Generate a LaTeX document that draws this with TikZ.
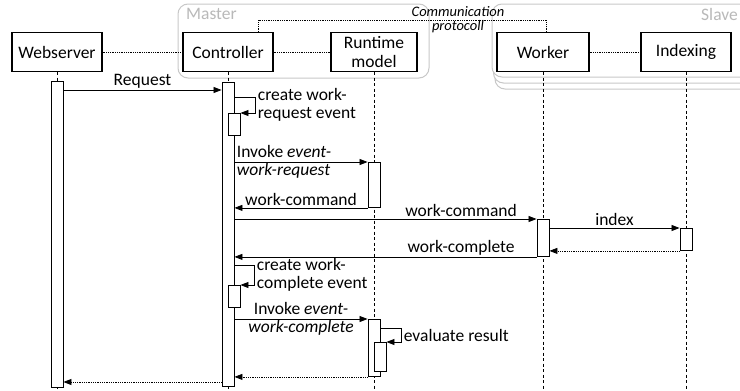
\documentclass[tikz,border=0pt]{standalone}
\usepackage{fontspec}
\setmainfont{Carlito}
\usetikzlibrary{positioning,calc,arrows.meta}

\definecolor{groupgray}{RGB}{200,200,200}
\definecolor{labelgray}{RGB}{185,185,185}

\begin{document}
\begin{tikzpicture}[
				x=1pt, y=-1pt,
				font=\fontsize{17.5}{18.5}\selectfont,
				component/.style={rectangle, draw, line width=1.2pt, minimum width=90pt, minimum height=39pt, align=center, inner sep=1pt, fill=white},
				activation/.style={rectangle, draw, line width=0.9pt, fill=white, minimum width=12pt, inner sep=0pt, anchor=north},
				group/.style={draw=groupgray, line width=1pt, rounded corners=10pt, fill=white},
				grouplabel/.style={text=labelgray, inner sep=0pt},
				lifeline/.style={line width=0.8pt, dash pattern=on 3pt off 2.5pt},
				link/.style={line width=0.8pt, densely dotted},
				msg/.style={-{Triangle[length=8pt, width=6pt]}, line width=0.8pt},
				reply/.style={msg, densely dotted},
				lbl/.style={inner sep=1.5pt}
				]
				\useasboundingbox (0,0) rectangle (740,391);
				\clip (0,0) rectangle (740,391);
				
				% Gruppi
				\draw[group] (178,4) rectangle (429,78);
				\node[grouplabel, anchor=west] (master) at (186,14) {Master};
				\foreach \d in {2,1,0}
					\draw[group] ({492+1.5*\d},{4+6*\d}) rectangle (790,{77+6*\d});
				\node[grouplabel, anchor=east] (slave) at (738,14) {Slave};
				
				% Partecipanti
				\node[component] (web) at (57,52) {Webserver};
				\node[component] (ctrl) at (228,52) {Controller};
				\node[component, minimum width=86pt] (rt) at (374,52) {Runtime\\model};
				\node[component, minimum width=92pt] (worker) at (543,52) {Worker};
				\node[component] (idx) at (686,52) {Indexing};
				
				\draw[link] (web) -- (ctrl);
				\draw[link] (ctrl) -- (rt);
				\draw[link] (worker) -- (idx);
				
				% Protocollo
				\draw[link] ([xshift=30pt]ctrl.north) -- ++(0,-12) -| ([xshift=3pt]worker.north);
				\node[font=\fontsize{14.5}{14}\selectfont\itshape, align=center] (proto) at (458,20) {Communication\\protocoll};
				
				% Linee di vita
				\foreach \p in {web,ctrl,rt,worker,idx}
					\draw[lifeline] (\p.south) -- (\p.south |- 0,391);
				
				% Attivazioni
				\node[activation, minimum height=306pt] (actWeb) at (57,81) {};
				\node[activation, minimum height=304pt] (actCtrl) at (228,82) {};
				\node[activation, minimum height=22pt] (actCtrlA) at (234,113) {};
				\node[activation, minimum height=45pt] (actRtA) at (374,162) {};
				\node[activation, minimum height=37pt] (actWork) at (543,219) {};
				\node[activation, minimum height=22pt] (actIdx) at (686,228) {};
				\node[activation, minimum height=22pt] (actCtrlB) at (234,285) {};
				\node[activation, minimum height=57pt] (actRtB) at (374,319) {};
				\node[activation, minimum height=29pt] (actRtC) at (380,342) {};
				
				% Messaggi
				\draw[msg] (actWeb.east |- 0,90) -- node[lbl, above] {Request} (actCtrl.west |- 0,90);
				\draw[msg] (actCtrl.east |- 0,97) -- ++(21,0) |- node[pos=0.25, right, align=left, inner sep=2pt] {create work-\\request event} (actCtrlA.north east);
				\draw[msg] (actCtrl.east |- actRtA.north) -- (actRtA.north west) node[pos=0, right, align=left, inner sep=2pt] {Invoke \textit{event-}\\\textit{work-request}};
				\draw[msg] (actRtA.south west) -- node[lbl, above] {work-command} (actCtrl.east |- actRtA.south);
				\draw[msg] (actCtrl.east |- actWork.north) -- node[lbl, above, pos=0.75] {work-command} (actWork.north west);
				\draw[msg] (actWork.east |- actIdx.north) -- node[lbl, above] {index} (actIdx.north west);
				\draw[reply] (actIdx.south west) -- (actWork.east |- actIdx.south);
				\draw[msg] (actWork.south west) -- node[lbl, above, pos=0.25] {work-complete} (actCtrl.east |- actWork.south);
				\draw[msg] (actCtrl.east |- 0,265) -- ++(20,0) |- node[pos=0.25, right, align=left, inner sep=2pt] {create work-\\complete event} (actCtrlB.north east);
				\draw[msg] (actCtrl.east |- actRtB.north) -- node[align=center, inner sep=0pt] {Invoke \textit{event-}\\\textit{work-complete}} (actRtB.north west);
				\draw[msg] (actRtB.east |- 0,328) -- ++(21,0) |- node[pos=0.25, right, inner sep=2pt] {evaluate result} (actRtC.north east);
				\draw[reply] (actRtB.south west) -- (actCtrl.east |- actRtB.south);
				\draw[reply] (actCtrl.west |- 0,382) -- (actWeb.east |- 0,382);
			\end{tikzpicture}
\end{document}
